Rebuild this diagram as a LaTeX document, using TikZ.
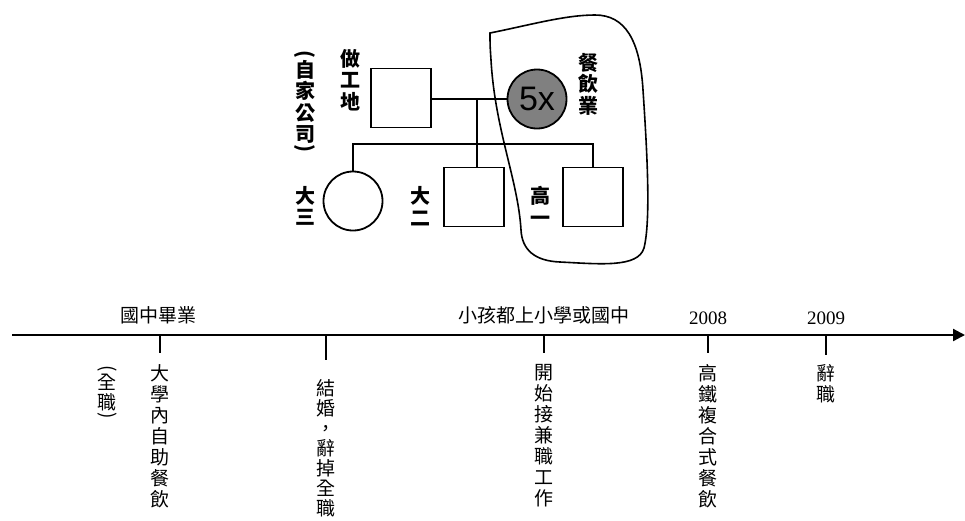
\documentclass[tikz,border=0pt]{standalone}
\usepackage{fontspec}
\setmainfont{Liberation Serif}
\newfontfamily\cjk{Noto Sans CJK TC}
\newfontfamily\arial{Liberation Sans}
\usetikzlibrary{arrows.meta}
\newcommand{\parentop}{\rotatebox[origin=c]{-90}{(}}
\newcommand{\parenbot}{\rotatebox[origin=c]{-90}{)}}
\begin{document}
\begin{tikzpicture}[x=1pt,y=-1pt,
  ped/.style={line width=1.8pt},
  sq/.style={draw, line width=1.8pt, minimum width=60pt, minimum height=59pt, inner sep=0pt},
  circ/.style={draw, line width=1.8pt, circle, minimum size=59pt, inner sep=0pt},
  plab/.style={inner sep=0pt, align=center, font=\cjk\bfseries\fontsize{20}{21.5}\selectfont},
  vlab/.style={inner sep=0pt, align=center, anchor=north, font=\cjk\fontsize{19}{21}\selectfont},
  hlab/.style={inner sep=0pt, font=\cjk\fontsize{19}{21}\selectfont},
  year/.style={inner sep=0pt, font=\fontsize{19}{21}\selectfont},
  tick/.style={line width=1.8pt}
]
\useasboundingbox (0,0) rectangle (965,520);

% enclosure
\draw[line width=1.6pt] (490,33) .. controls (530,25) and (565,15) .. (595,15)
  .. controls (625,15) and (640,40) .. (643,90)
  .. controls (647,150) and (651,220) .. (644,248)
  .. controls (638,268) and (600,264) .. (560,262)
  .. controls (535,261) and (522,250) .. (521,230)
  .. controls (518,180) and (495,130) .. (491,60)
  .. controls (490,45) .. cycle;

% pedigree
\node[sq] (fa) at (401,98) {};
\node[circ, fill={rgb,255:red,128;green,128;blue,128}, font=\arial\fontsize{34}{34}\selectfont] (mo) at (537,99) {5x};
\node[circ] (c1) at (353,201) {};
\node[sq] (c2) at (474,197) {};
\node[sq] (c3) at (593,197) {};
\coordinate (m) at (477,99);
\coordinate (sl) at (353,144);

\draw[ped] (fa.east |- m) -- (mo.west |- m);
\draw[ped] (m) -- (m |- c2.north);
\draw[ped] (c1.north) -- (c1.north |- sl) -- (c3.north |- sl) -- (c3.north);

\node[plab] (l_fa) at (350,80) {做\\工\\地};
\node[plab, anchor=north] (l_co) at (305,50) {\parentop\\[-5pt]自\\家\\公\\司\\[-8pt]\parenbot};
\node[plab] (l_mo) at (588,84) {餐\\飲\\業};
\node[plab] (l_c1) at (305,206) {大\\三};
\node[plab] (l_c2) at (420,206) {大\\二};
\node[plab] (l_c3) at (540,206) {高\\一};

% timeline
\coordinate (t0) at (12,335);
\coordinate (t1) at (965,335);
\draw[line width=2.2pt, -{Triangle[length=12pt,width=12pt]}] (t0) -- (t1);
\coordinate (k1) at (160,335);
\coordinate (k2) at (326,335);
\coordinate (k3) at (544,335);
\coordinate (k4) at (708,335);
\coordinate (k5) at (826,335);
\draw[tick] (k1) -- ++(0,18);
\draw[tick] (k2) -- ++(0,25);
\draw[tick] (k3) -- ++(0,18);
\draw[tick] (k4) -- ++(0,18);
\draw[tick] (k5) -- ++(0,20);

\node[hlab] (a1) at (158,315) {國中畢業};
\node[hlab] (a3) at (544,315) {小孩都上小學或國中};
\node[year] (a4) at (708,318) {2008};
\node[year] (a5) at (826,318) {2009};

\node[vlab, font=\cjk\fontsize{19}{20}\selectfont] (b0) at (107,365) {\parentop\\[-5pt]全\\職\\[-8pt]\parenbot};
\node[vlab] (b1) at (160,364) {大\\學\\內\\自\\助\\餐\\飲};
\node[vlab, font=\cjk\fontsize{19}{20}\selectfont] (b2) at (326,379) {結\\婚\\，\\辭\\掉\\全\\職};
\node[vlab] (b3) at (544,364) {開\\始\\接\\兼\\職\\工\\作};
\node[vlab] (b4) at (708,364) {高\\鐵\\複\\合\\式\\餐\\飲};
\node[vlab] (b5) at (826,364) {辭\\職};
\end{tikzpicture}
\end{document}
